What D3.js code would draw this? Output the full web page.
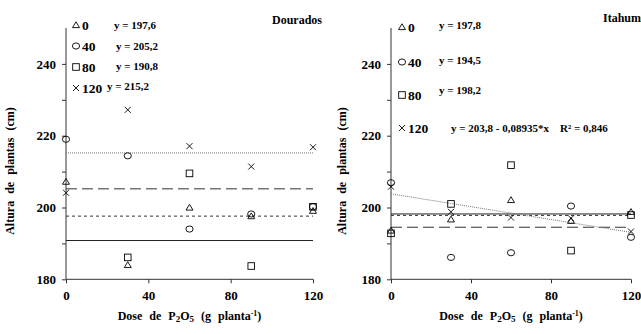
<!DOCTYPE html>
<html>
<head>
<meta charset="utf-8">
<script src="https://cdn.jsdelivr.net/npm/d3@7"></script>
<style>
  body { margin: 0; background: #fff; }
  svg { display: block; }
  text { font-family: "Liberation Serif", "Times New Roman", serif; font-weight: bold; fill: #000; }
</style>
</head>
<body>
<div id="chart"></div>
<script>
// doses of P2O5 (g planta-1)
const doses = [0, 30, 60, 90, 120];
const series = ["0", "40", "80", "120"];

// Dourados - plant height (cm) by series
const dourados0 = [207.2, 184.0, 200.0, 197.6, 199.1];
const dourados40 = [219.0, 214.4, 194.0, 198.2, 200.2];
const dourados80 = [174.5, 186.1, 209.5, 183.7, 200.2];
const dourados120 = [204.1, 227.2, 217.1, 211.4, 216.8];
const douradosFit = [[197.6, 0], [205.2, 0], [190.8, 0], [215.2, 0]]; // intercept, slope
const douradosEq = ["y = 197,6", "y = 205,2", "y = 190,8", "y = 215,2"];

// Itahum
const itahum0 = [193.6, 196.7, 202.1, 196.3, 198.8];
const itahum40 = [206.9, 186.1, 187.4, 200.4, 191.7];
const itahum80 = [192.8, 201.0, 211.8, 188.0, 197.9];
const itahum120 = [205.8, 198.8, 197.2, 197.0, 193.3];
const itahumFit = [[197.8, 0], [194.5, 0], [198.2, 0], [203.8, -0.08935]];
const itahumEq = ["y = 197,8", "y = 194,5", "y = 198,2", "y = 203,8 - 0,08935*x    R\u00b2 = 0,846"];

const yDomain = [180, 250];
const yTicks = [180, 190, 200, 210, 220, 230, 240];
const xTicks = [0, 40, 80, 120];

const W = 641, H = 334;
const svg = d3.select("#chart").append("svg").attr("width", W).attr("height", H);

// line style per series: short dash, long dash, solid, dotted
const lineStyle = [
  {dash: "3,3", color: "#333", w: 1},
  {dash: "11,5", color: "#333", w: 1},
  {dash: null, color: "#222", w: 1},
  {dash: "1,1", color: "#777", w: 1}
];

function marker(g, type) {
  if (type == 0) {
    g.append("path").attr("d", "M-3.5,2.6L0,-3.2L3.5,2.6Z");
  } else if (type == 1) {
    g.append("ellipse").attr("rx", 3.6).attr("ry", 3.1);
  } else if (type == 2) {
    g.append("rect").attr("x", -3.3).attr("y", -3.3).attr("width", 6.6).attr("height", 6.6);
  } else {
    g.append("path").attr("d", "M-3,-3L3,3M-3,3L3,-3");
  }
  g.selectAll("*").attr("fill", "none").attr("stroke", "#000").attr("stroke-width", 0.9);
}

function drawPanel(opt) {
  const x = d3.scaleLinear().domain([0, 120]).range(opt.xRange);
  const y = d3.scaleLinear().domain(yDomain).range([279.3, 28]);
  const g = svg.append("g");

  // axes
  const yAxis = d3.axisLeft(y).tickValues(yTicks).tickSize(4).tickPadding(6)
    .tickFormat(d => d % 20 == 0 ? d : "");
  const ya = g.append("g").attr("transform", "translate(" + opt.xRange[0] + ",0)").call(yAxis);
  const xAxis = d3.axisBottom(x).tickValues(xTicks).tickSize(4).tickPadding(7);
  const xa = g.append("g").attr("transform", "translate(0," + y(180) + ")").call(xAxis);
  [ya, xa].forEach(a => {
    a.select(".domain").remove();
    a.selectAll(".tick line").attr("stroke", "#333");
    a.selectAll("text").attr("font-size", 13).attr("font-family", "Liberation Serif").attr("font-weight", "bold");
  });
  g.append("line").attr("x1", opt.xRange[0]).attr("x2", opt.xRange[0])
    .attr("y1", y(yDomain[1])).attr("y2", y(180)).attr("stroke", "#333");
  g.append("line").attr("x1", opt.xRange[0]).attr("x2", opt.xRange[1])
    .attr("y1", y(180)).attr("y2", y(180)).attr("stroke", "#333");

  // axis titles
  const xt = g.append("text").attr("x", (opt.xRange[0] + opt.xRange[1]) / 2).attr("y", 320)
    .attr("text-anchor", "middle").attr("font-size", 12).attr("word-spacing", 4);
  xt.append("tspan").text("Dose de P");
  xt.append("tspan").attr("font-size", 9).attr("dy", 2).text("2");
  xt.append("tspan").attr("dy", -2).text("O");
  xt.append("tspan").attr("font-size", 9).attr("dy", 2).text("5");
  xt.append("tspan").attr("dy", -2).text(" (g planta");
  xt.append("tspan").attr("font-size", 8).attr("dy", -4).text("-1");
  xt.append("tspan").attr("dy", 4).text(")");

  g.append("text").attr("transform", "translate(" + opt.yTitleX + ",171) rotate(-90)")
    .attr("text-anchor", "middle").attr("font-size", 12).attr("word-spacing", 4)
    .text("Altura de plantas (cm)");

  // site name
  g.append("text").attr("x", opt.nameX).attr("y", opt.nameY).attr("text-anchor", "end")
    .attr("font-size", 12).text(opt.name);

  // fitted lines
  opt.fit.forEach((f, i) => {
    const st = lineStyle[i];
    g.append("line")
      .attr("x1", x(0)).attr("x2", x(120))
      .attr("y1", y(f[0])).attr("y2", y(f[0] + f[1] * 120))
      .attr("stroke", st.color).attr("stroke-width", st.w)
      .attr("stroke-dasharray", st.dash);
  });

  // points
  const clipId = "clip" + opt.name;
  svg.append("clipPath").attr("id", clipId).append("rect")
    .attr("x", opt.xRange[0] - 8).attr("y", 20).attr("width", opt.xRange[1] - opt.xRange[0] + 16).attr("height", 263);
  const pts = g.append("g").attr("clip-path", "url(#" + clipId + ")");
  opt.data.forEach((vals, i) => {
    vals.forEach((v, j) => {
      const m = pts.append("g").attr("transform", "translate(" + x(doses[j]) + "," + y(v) + ")");
      marker(m, i);
    });
  });

  // legend
  series.forEach((s, i) => {
    const ly = opt.legY[i];
    const m = g.append("g").attr("transform", "translate(" + opt.legX + "," + ly + ")");
    marker(m, i);
    g.append("text").attr("x", opt.legX + 6).attr("y", ly + 5).attr("font-size", 13.5).text(s);
    g.append("text").attr("x", opt.eqX[i]).attr("y", opt.eqY[i] + 4).attr("font-size", 11)
      .attr("xml:space", "preserve").text(opt.eq[i]);
  });
}

drawPanel({
  name: "Dourados", nameX: 322, nameY: 24,
  xRange: [66, 313], yTitleX: 14,
  data: [dourados0, dourados40, dourados80, dourados120],
  fit: douradosFit, eq: douradosEq,
  legX: 76, legY: [25, 46, 67, 88],
  eqX: [114, 116, 116, 107], eqY: [25, 46, 66, 86]
});

drawPanel({
  name: "Itahum", nameX: 641, nameY: 22,
  xRange: [391, 631], yTitleX: 346,
  data: [itahum0, itahum40, itahum80, itahum120],
  fit: itahumFit, eq: itahumEq,
  legX: 402, legY: [27, 62, 95, 128],
  eqX: [439, 439, 439, 451], eqY: [25, 60, 90, 128]
});
</script>
</body>
</html>
